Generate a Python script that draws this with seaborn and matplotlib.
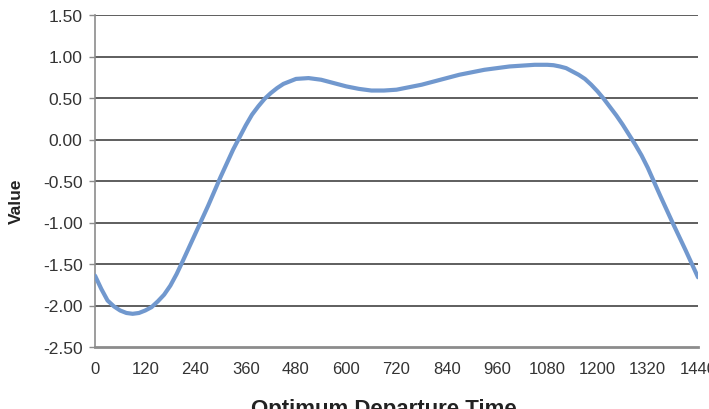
import numpy as np
import pandas as pd
import matplotlib
matplotlib.use("Agg")
import matplotlib.pyplot as plt
import seaborn as sns

# minutes, values
minutes = [0, 15, 30, 45, 60, 75, 90, 105, 120, 135, 150, 165, 180, 195, 210,
           240, 270, 300, 330, 360, 375, 390, 405, 420, 435, 450, 465, 480,
           510, 540, 570, 600, 630, 660, 690, 720, 750, 780, 810, 840, 870,
           900, 930, 960, 990, 1020, 1050, 1080, 1095, 1110, 1125, 1140, 1155,
           1170, 1185, 1200, 1215, 1230, 1245, 1260, 1275, 1290, 1305, 1320,
           1350, 1380, 1410, 1440]
values = [-1.64, -1.80, -1.94, -2.01, -2.06, -2.09, -2.10, -2.09, -2.06, -2.02,
          -1.95, -1.87, -1.76, -1.62, -1.46, -1.13, -0.80, -0.45, -0.12, 0.17,
          0.30, 0.40, 0.49, 0.56, 0.62, 0.67, 0.70, 0.73, 0.74, 0.72, 0.68,
          0.64, 0.61, 0.59, 0.59, 0.60, 0.63, 0.66, 0.70, 0.74, 0.78, 0.81,
          0.84, 0.86, 0.88, 0.89, 0.90, 0.90, 0.895, 0.88, 0.86, 0.82, 0.78,
          0.73, 0.66, 0.58, 0.49, 0.39, 0.29, 0.18, 0.06, -0.06, -0.19, -0.34,
          -0.68, -1.01, -1.33, -1.66]

x_ticks = list(range(0, 1441, 120))
y_ticks = [1.5, 1.0, 0.5, 0.0, -0.5, -1.0, -1.5, -2.0, -2.5]

df = pd.DataFrame({"minute": minutes, "value": values})

sns.set_theme(style="white")
plt.rcParams["font.family"] = ["Liberation Sans", "DejaVu Sans"]

fig = plt.figure(figsize=(7.09, 4.10), dpi=100)
ax = fig.add_axes([95 / 709, 1 - 348 / 410, 603 / 709, 332 / 410])

for y in y_ticks[:-1]:
    ax.axhline(y, color="#333333", lw=1.1, zorder=1)

sns.lineplot(data=df, x="minute", y="value", ax=ax, color="#7198ce",
             lw=3.0, zorder=3)

ax.set_xlim(0, 1440)
ax.set_ylim(-2.5, 1.5)
ax.set_xticks(x_ticks)
ax.set_xticklabels([str(t) for t in x_ticks])
ax.set_yticks(y_ticks)
ax.set_yticklabels(["%.2f" % v for v in y_ticks])

ax.tick_params(axis="x", length=0, pad=10, labelsize=12, labelcolor="#333333")
ax.tick_params(axis="y", length=4, width=1, color="#8c8c8c", pad=5,
               labelsize=12.5, labelcolor="#333333", left=True)

for s in ["top", "right"]:
    ax.spines[s].set_visible(False)
ax.spines["left"].set_color("#8c8c8c")
ax.spines["left"].set_linewidth(1.2)
ax.spines["bottom"].set_color("#8c8c8c")
ax.spines["bottom"].set_linewidth(2.0)

ax.set_xlabel("")
ax.set_ylabel("")
fig.text(16 / 709, 1 - 201 / 410, "Value", rotation=90, fontsize=12.5,
         fontweight="bold", ha="center", va="center", color="#222222")
fig.text(384 / 709, 1 - 399 / 410, "Optimum Departure Time", fontsize=16,
         fontweight="bold", ha="center", va="top", color="#222222")

fig.savefig("out.png", dpi=100)
